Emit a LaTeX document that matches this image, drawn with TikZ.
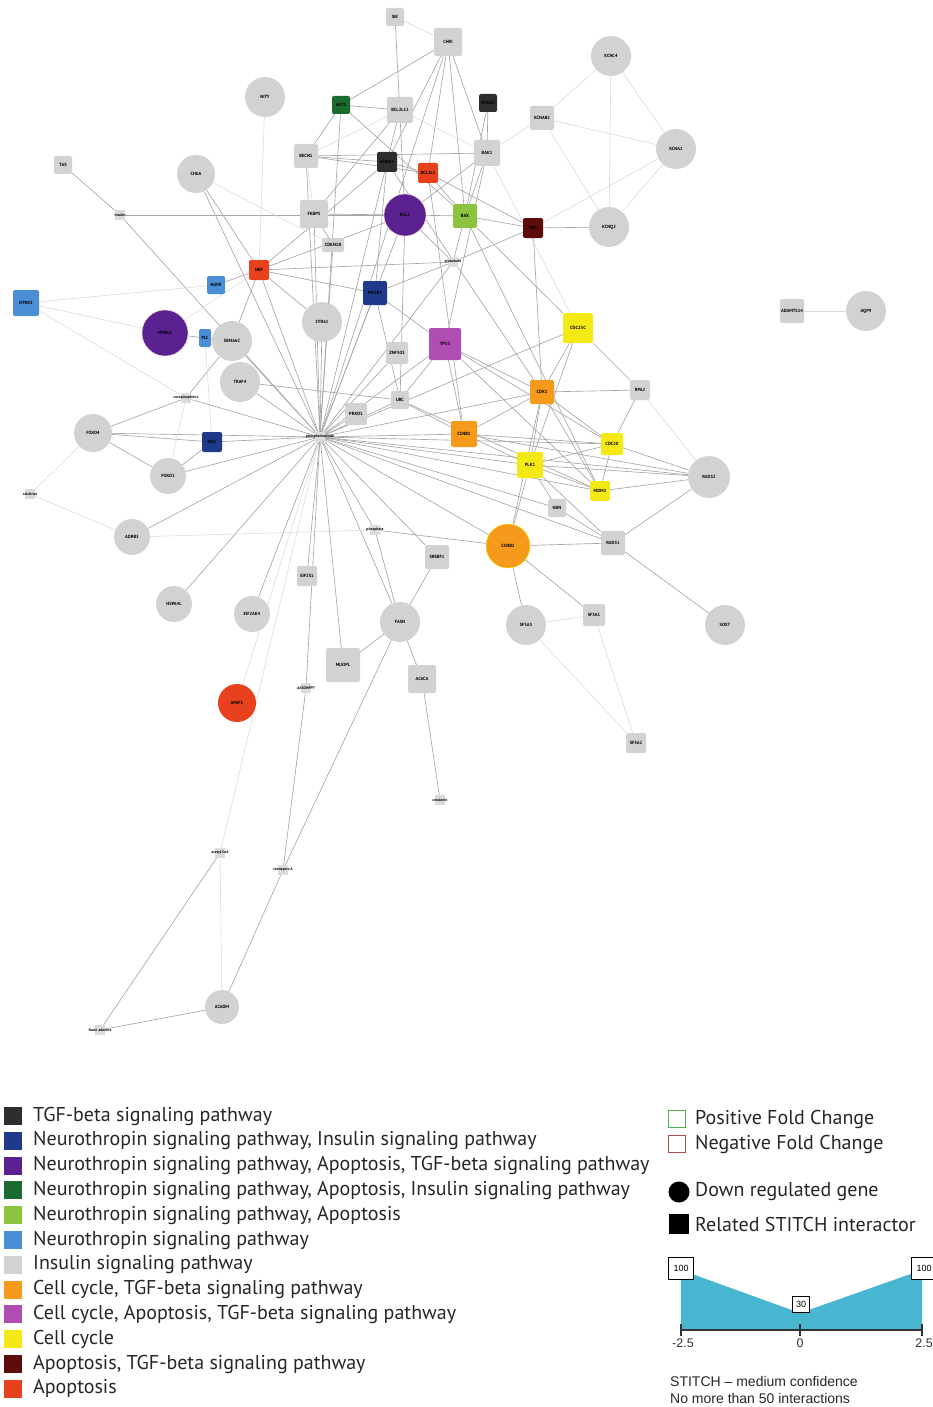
\documentclass[tikz,border=0pt]{standalone}
\usepackage{fontspec}
\setmainfont{PT Sans}
\newfontfamily\arialf{Liberation Sans}
\usetikzlibrary{backgrounds}
\definecolor{cTGF}{HTML}{2E2E2E}
\definecolor{cNI}{HTML}{1F3A8A}
\definecolor{cNAT}{HTML}{5B2191}
\definecolor{cNAI}{HTML}{1B6B30}
\definecolor{cNA}{HTML}{8CC43F}
\definecolor{cN}{HTML}{4A8FD6}
\definecolor{cI}{HTML}{D2D2D2}
\definecolor{cCT}{HTML}{F59A1B}
\definecolor{cCAT}{HTML}{B04DB3}
\definecolor{cC}{HTML}{F4E914}
\definecolor{cAT}{HTML}{5E0B0B}
\definecolor{cA}{HTML}{E8411D}
\definecolor{cChart}{HTML}{48B6D0}
\tikzset{
 lab/.style={font=\fontsize{4.5}{4.5}\selectfont\bfseries, text=black},
 gc/.style={circle, fill=cI, minimum size=#1, inner sep=0pt, lab},
 gc/.default=40pt,
 sq/.style={rectangle, rounded corners=2pt, fill=cI, minimum size=#1, inner sep=0pt, lab},
 sq/.default=24pt,
 cpd/.style={rectangle, fill=cI!80, minimum size=10pt, inner sep=0pt},
 ctext/.style={font=\fontsize{3.8}{3.8}\selectfont\bfseries, text=black, inner sep=0pt},
 e/.style={draw=gray!70, line width=0.65pt},
 ef/.style={draw=gray!30, line width=0.55pt},
 legsq/.style={rectangle, minimum size=18pt, inner sep=0pt},
 legtxt/.style={anchor=west, inner sep=0pt, font=\fontsize{20}{22}\selectfont, text=black!85},
}
\begin{document}
\begin{tikzpicture}[x=1pt,y=-1pt]
\useasboundingbox (0,0) rectangle (932,1407);
% ---------- nodes ----------
\node[sq=18pt] (SIK) at (395,17) {SIK};
\node[sq=28pt] (CHRI) at (448,42) {CHRI};
\node[gc] (KCNC4) at (611,56) {KCNC4};
\node[gc] (NITY) at (265,97) {NITY};
\node[sq=18pt, fill=cNAI] (AKT1) at (341,105) {AKT1};
\node[sq=26pt] (BCL2L11) at (400,110) {BCL2L11};
\node[sq=18pt, fill=cTGF] (SMAD2) at (488,103) {SMAD2};
\node[sq=24pt] (KCNAB2) at (542,118) {KCNAB2};
\node[gc] (KCNA2) at (676,149) {KCNA2};
\node[sq=26pt] (BAK1) at (487,153) {BAK1};
\node[sq=24pt] (BECN1) at (306,156) {BECN1};
\node[sq=20pt, fill=cTGF] (SMAD3) at (387,162) {SMAD3};
\node[sq=20pt, fill=cA] (BCL2L1) at (428,173) {BCL2L1};
\node[sq=18pt] (TAS) at (63,165) {TAS};
\node[gc=38pt] (CHGA) at (196,174) {CHGA};
\node[sq=28pt] (FKBP5) at (314,214) {FKBP5};
\node[gc=42pt, fill=cNAT, draw=pink!70, line width=0.4pt] (BCL2) at (405,215) {BCL2};
\node[sq=24pt, fill=cNA] (BAX) at (465,216) {BAX};
\node[sq=20pt, fill=cAT] (TNF) at (533,228) {TNF};
\node[gc] (KCNQ2) at (609,227) {KCNQ2};
\node[cpd, label={[ctext]center:insulin}] (insulin) at (120,215) {};
\node[sq=14pt, minimum width=22pt] (CDKN1B) at (333,245) {CDKN1B};
\node[cpd, label={[ctext]center:glutamate}] (glut) at (453,262) {};
\node[sq=20pt, fill=cA] (NGF) at (259,270) {NGF};
\node[sq=18pt, fill=cN] (NGFR) at (216,285) {NGFR};
\node[sq=26pt, fill=cN] (NTRK3) at (26,303) {NTRK3};
\node[sq=24pt, fill=cNI] (PIK3R1) at (375,293) {PIK3R1};
\node[gc] (CYR61) at (322,322) {CYR61};
\node[gc=46pt, fill=cNAT, draw=pink!70, line width=0.4pt] (NTRK2) at (165,333) {NTRK2};
\node[sq=18pt, minimum width=12pt, fill=cN] (PLC) at (205,338) {PLC};
\node[gc] (SEMA6C) at (232,341) {SEMA6C};
\node[sq=22pt] (ZNF503) at (397,353) {ZNF503};
\node[sq=32pt, fill=cCAT] (TP53) at (445,344) {TP53};
\node[sq=30pt, fill=cC] (CDC25C) at (578,328) {CDC25C};
\node[gc] (TRAF4) at (240,382) {TRAF4};
\node[sq=20pt] (RPA2) at (640,390) {RPA2};
\node[sq=24pt, fill=cCT] (CDK1) at (542,392) {CDK1};
\node[sq=18pt] (UBC) at (400,400) {UBC};
\node[sq=22pt] (PRKD1) at (356,414) {PRKD1};
\node[cpd, label={[ctext]center:norepinephrine}] (norepi) at (186,398) {};
\node[gc=38pt] (FOXO4) at (93,433) {FOXO4};
\node[sq=20pt, fill=cNI] (IRS1) at (212,442) {IRS1};
\node[cpd, label={[ctext]center:phosphoinositide}] (hub) at (320,437) {};
\node[sq=26pt, fill=cCT] (CCNB1) at (464,434) {CCNB1};
\node[sq=22pt, fill=cC] (CDC20) at (612,444) {CDC20};
\node[gc=36pt] (FOXO1) at (168,476) {FOXO1};
\node[sq=26pt, fill=cC] (PLK1) at (530,465) {PLK1};
\node[sq=20pt, fill=cC] (MDM2) at (600,491) {MDM2};
\node[gc=42pt] (RAD52) at (709,477) {RAD52};
\node[cpd, label={[ctext]center:calcitriol}] (calci) at (30,494) {};
\node[sq=18pt] (NBN) at (557,508) {NBN};
\node[gc=36pt] (ADRB3) at (132,537) {ADRB3};
\node[cpd, label={[ctext]center:phosphate}] (phos) at (375,530) {};
\node[gc=44pt, fill=cCT, draw=yellow!80!orange, line width=0.5pt] (CCNB2) at (508,546) {CCNB2};
\node[sq=24pt] (RAD51) at (613,543) {RAD51};
\node[sq=24pt] (SREBF1) at (437,557) {SREBF1};
\node[sq=20pt] (EIF2S1) at (307,576) {EIF2S1};
\node[gc=36pt] (HSPA4L) at (174,604) {HSPA4L};
\node[gc=36pt] (EIF2AK4) at (252,614) {EIF2AK4};
\node[gc] (FASN) at (400,622) {FASN};
\node[gc] (SF3A3) at (526,625) {SF3A3};
\node[sq=22pt] (SF3A1) at (594,615) {SF3A1};
\node[gc] (SOX7) at (725,625) {SOX7};
\node[sq=34pt] (MLXIPL) at (343,665) {MLXIPL};
\node[sq=28pt] (ACACA) at (422,679) {ACACA};
\node[cpd, label={[ctext]center:AASDHPPT}] (AASD) at (306,688) {};
\node[gc=38pt, fill=cA] (APAF1) at (237,703) {APAF1};
\node[sq=20pt] (SF3A2) at (636,743) {SF3A2};
\node[cpd, label={[ctext]center:cerulenin}] (ceru) at (440,800) {};
\node[cpd, label={[ctext]center:acetyl-CoA}] (acoa) at (220,853) {};
\node[cpd, label={[ctext]center:coenzyme A}] (coa) at (283,870) {};
\node[gc=34pt] (ACADM) at (222,1007) {ACADM};
\node[cpd, label={[ctext]center:flavin adenine}] (flavin) at (100,1030) {};
\node[sq=24pt] (ADAMTS14) at (792,311) {ADAMTS14};
\node[gc] (AQP9) at (866,311) {AQP9};
% ---------- edges ----------
\begin{pgfonlayer}{background}
\foreach \b in {NGF,TRAF4,FOXO1,ADRB3,HSPA4L,EIF2AK4,EIF2S1,phos,FASN,MLXIPL,AASD,IRS1,FOXO4,CCNB1,CDC20,PLK1,RAD52,CCNB2,NBN,RAD51,BCL2,BECN1,CHRI,CHGA,insulin,CYR61,PIK3R1,UBC,PRKD1,CDK1,TP53,SREBF1,CDC25C,MDM2,SEMA6C,norepi,SMAD3,AKT1,FKBP5,CDKN1B,glut,ZNF503}
  \draw[e] (hub) -- (\b);
\foreach \a/\b in {TAS/insulin,insulin/BCL2,CHGA/NGF,SIK/BCL2,CHRI/AKT1,CHRI/BAK1,CHRI/BCL2L1,CHRI/SMAD3,CHRI/BAX,AKT1/BCL2L11,AKT1/BECN1,AKT1/BAX,BCL2L11/SMAD3,BCL2L11/FKBP5,SMAD2/BAK1,SMAD2/BAX,BAK1/BECN1,BAK1/BAX,BAK1/BCL2,BAK1/TP53,BECN1/SMAD3,BECN1/BCL2L1,SMAD3/BCL2L1,SMAD3/NGF,SMAD3/CDK1,SMAD3/PIK3R1,BCL2L1/BAX,BCL2L1/TNF,BCL2L1/CCNB1,BCL2/BAX,BCL2/FKBP5,BCL2/NGF,BCL2/UBC,BAX/TNF,BAX/glut,BAX/CDC25C,BAX/MDM2,TNF/KCNQ2,TNF/glut,TNF/CDK1,NGF/NGFR,NGF/PIK3R1,NGF/SEMA6C,NGF/CYR61,NGF/glut,NTRK2/PLC,PLC/SEMA6C,SEMA6C/norepi,TRAF4/UBC,norepi/FOXO4,FOXO4/IRS1,FOXO4/FOXO1,IRS1/FOXO1,phos/FASN,phos/CCNB2,FASN/MLXIPL,FASN/ACACA,FASN/SREBF1,FASN/coa,ACACA/ceru,AASD/coa,acoa/flavin,coa/ACADM,ACADM/flavin,CCNB2/SF3A3,CCNB2/SF3A1,CCNB2/RAD51,CCNB2/CDK1,CCNB2/PLK1,RAD51/SOX7,RAD51/RAD52,RAD51/NBN,RAD51/PLK1,RAD52/CDC20,RAD52/MDM2,RAD52/PLK1,RAD52/CCNB1,RPA2/CDC25C,RPA2/CDK1,RPA2/CDC20,CDC25C/CDK1,CDC25C/PLK1,CDK1/CCNB1,CDK1/PLK1,CDK1/CDC20,CDK1/MDM2,CCNB1/PLK1,CCNB1/CDC20,PLK1/CDC20,PLK1/MDM2,PLK1/NBN,MDM2/CDC20,TP53/MDM2,TP53/CDK1,TP53/CCNB1,TP53/UBC,TP53/PIK3R1,TP53/CDC20,PIK3R1/UBC,PIK3R1/glut,UBC/MDM2,UBC/CCNB1,CDKN1B/FKBP5,glut/BCL2}
  \draw[e] (\a) -- (\b);
\foreach \a/\b in {NITY/NGF,CHGA/CDKN1B,SIK/CHRI,BCL2L11/BECN1,BCL2L11/BAK1,KCNAB2/KCNC4,KCNAB2/KCNA2,KCNAB2/KCNQ2,KCNAB2/BAK1,KCNC4/KCNA2,KCNC4/KCNQ2,KCNA2/KCNQ2,KCNA2/TNF,BECN1/FKBP5,NTRK3/NGFR,NTRK3/norepi,NTRK3/NTRK2,NTRK2/NGF,PLC/IRS1,norepi/FOXO1,FOXO4/calci,calci/ADRB3,ADRB3/phos,hub/acoa,acoa/ACADM,SF3A3/SF3A1,SF3A1/SF3A2,SF3A3/SF3A2,RAD52/RPA2,ADAMTS14/AQP9,BAK1/CDC25C,hub/APAF1}
  \draw[ef] (\a) -- (\b);
\end{pgfonlayer}
% ---------- legend ----------
\foreach \i/\c/\t in {0/cTGF/{TGF-beta signaling pathway},
 1/cNI/{Neurothropin signaling pathway, Insulin signaling pathway},
 2/cNAT/{Neurothropin signaling pathway, Apoptosis, TGF-beta signaling pathway},
 3/cNAI/{Neurothropin signaling pathway, Apoptosis, Insulin signaling pathway},
 4/cNA/{Neurothropin signaling pathway, Apoptosis},
 5/cN/{Neurothropin signaling pathway},
 6/cI/{Insulin signaling pathway},
 7/cCT/{Cell cycle, TGF-beta signaling pathway},
 8/cCAT/{Cell cycle, Apoptosis, TGF-beta signaling pathway},
 9/cC/{Cell cycle},
 10/cAT/{Apoptosis, TGF-beta signaling pathway},
 11/cA/{Apoptosis}}
{
  \node[legsq, fill=\c] (ls\i) at (13,1116+24.8*\i) {};
  \node[legtxt] (lt\i) at (33,1116+24.8*\i) {\t};
}
\node[legsq, draw=green!55!black!70, line width=0.8pt, minimum size=17pt] (pfc) at (677,1119) {};
\node[legtxt] (pfct) at (695,1119) {Positive Fold Change};
\node[legsq, draw=red!55!black!70, line width=0.8pt, minimum size=17pt] (nfc) at (677,1144) {};
\node[legtxt] (nfct) at (695,1144) {Negative Fold Change};
\node[circle, fill=black, minimum size=21pt, inner sep=0pt] (dreg) at (679,1192) {};
\node[legtxt] (dregt) at (695,1192) {Down regulated gene};
\node[rectangle, fill=black, minimum size=20pt, inner sep=0pt] (rsi) at (679,1224) {};
\node[legtxt] (rsit) at (695,1224) {Related STITCH interactor};
% chart
\fill[cChart] (681,1270) -- (800,1313) -- (922,1270) -- (922,1330) -- (681,1330) -- cycle;
\draw[line width=1.3pt, black!80] (681,1330) -- (922,1330);
\foreach \x in {681,800,922} \draw[line width=1.3pt, black!80] (\x,1324) -- (\x,1336);
\node[draw=black, line width=0.9pt, fill=white, minimum width=25pt, minimum height=22pt, inner sep=0pt, font=\arialf\fontsize{9}{9}\selectfont] (b1) at (681,1268) {100};
\node[draw=black, line width=0.9pt, fill=white, minimum width=17pt, minimum height=16pt, inner sep=0pt, font=\arialf\fontsize{9}{9}\selectfont] (b2) at (801,1304) {30};
\node[draw=black, line width=0.9pt, fill=white, minimum width=25pt, minimum height=22pt, inner sep=0pt, font=\arialf\fontsize{9}{9}\selectfont] (b3) at (924,1268) {100};
\node[font=\arialf\fontsize{12.5}{12.5}\selectfont, text=black!80] (tk1) at (683,1343) {-2.5};
\node[font=\arialf\fontsize{12.5}{12.5}\selectfont, text=black!80] (tk2) at (800,1343) {0};
\node[font=\arialf\fontsize{12.5}{12.5}\selectfont, text=black!80] (tk3) at (924,1343) {2.5};
\node[anchor=west, inner sep=0pt, font=\arialf\fontsize{14}{14}\selectfont, text=black!85] (st1) at (670,1381) {STITCH – medium confidence};
\node[anchor=west, inner sep=0pt, font=\arialf\fontsize{14}{14}\selectfont, text=black!85] (st2) at (670,1398) {No more than 50 interactions};
\end{tikzpicture}
\end{document}
